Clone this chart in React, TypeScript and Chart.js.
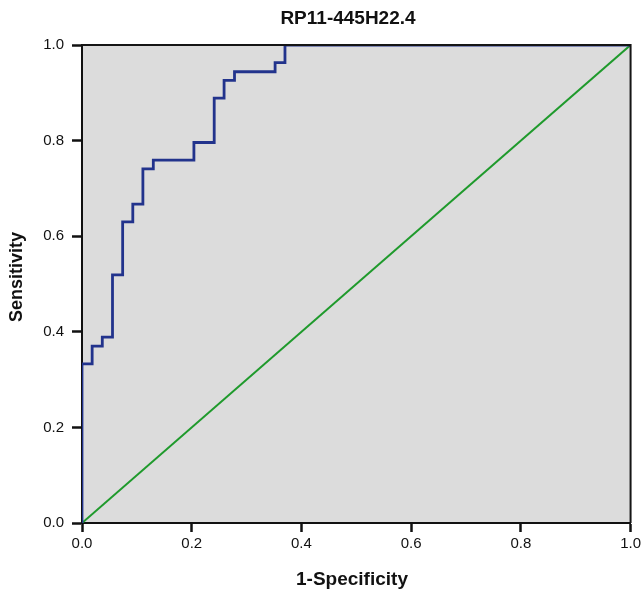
import React, { useEffect, useRef } from "react";
import { Chart, registerables } from "chart.js";

Chart.register(...registerables);

const chartTitle = "RP11-445H22.4";
const xAxisLabel = "1-Specificity";
const yAxisLabel = "Sensitivity";

// ROC curve vertices (1-specificity, sensitivity)
const fpr = [0, 0, 0.0185, 0.037, 0.0556, 0.0741, 0.0926, 0.111, 0.13, 0.204, 0.241, 0.259, 0.278, 0.352, 0.37, 1];
const tpr = [0, 0.333, 0.37, 0.389, 0.519, 0.63, 0.667, 0.741, 0.759, 0.796, 0.889, 0.926, 0.944, 0.963, 1, 1];

// reference diagonal
const refX = [0, 1];
const refY = [0, 1];

const tickValues = [0, 0.2, 0.4, 0.6, 0.8, 1.0];

const FONT = "'Liberation Sans', Arial, Helvetica, sans-serif";

const framePlugin = {
  id: "frameAndTitles",
  beforeDraw(chart: any) {
    const { ctx, chartArea: a } = chart;
    ctx.save();
    ctx.fillStyle = "#dcdcdc";
    ctx.fillRect(a.left, a.top, a.right - a.left, a.bottom - a.top);
    ctx.restore();
  },
  afterDatasetsDraw(chart: any) {
    const { ctx, chartArea: a } = chart;
    ctx.save();
    ctx.strokeStyle = "#151515";
    ctx.lineWidth = 2;
    ctx.beginPath();
    ctx.moveTo(a.left, a.top);
    ctx.lineTo(a.right, a.top);
    ctx.lineTo(a.right, a.bottom);
    ctx.stroke();
    ctx.restore();
  },
  afterDraw(chart: any) {
    const { ctx } = chart;
    ctx.save();
    ctx.fillStyle = "#111";
    ctx.font = `bold 19px ${FONT}`;
    ctx.textAlign = "center";
    ctx.textBaseline = "middle";
    ctx.fillText(chartTitle, 348, 19);
    ctx.fillText(xAxisLabel, 352, 580);
    ctx.font = `bold 18px ${FONT}`;
    ctx.translate(17, 277);
    ctx.rotate(-Math.PI / 2);
    ctx.fillText(yAxisLabel, 0, 0);
    ctx.restore();
  },
};

export default function App() {
  const ref = useRef<HTMLCanvasElement | null>(null);

  useEffect(() => {
    if (!ref.current) return;
    const chart = new Chart(ref.current, {
      type: "line",
      data: {
        datasets: [
          {
            label: "ROC",
            data: fpr.map((x, i) => ({ x, y: tpr[i] })),
            borderColor: "#22338c",
            borderWidth: 2.8,
            pointRadius: 0,
            stepped: "before",
            fill: false,
          },
          {
            label: "Reference",
            data: refX.map((x, i) => ({ x, y: refY[i] })),
            borderColor: "#1f9a2c",
            borderWidth: 2,
            pointRadius: 0,
            fill: false,
          },
        ],
      },
      options: {
        responsive: false,
        animation: false,
        layout: { padding: { top: 45, right: 12, left: 0, bottom: 0 } },
        plugins: {
          legend: { display: false },
          title: { display: false },
          tooltip: { enabled: false },
        },
        scales: {
          x: {
            type: "linear",
            min: 0,
            max: 1,
            afterFit: (s: any) => {
              s.height = 69;
            },
            afterBuildTicks: (s: any) => {
              s.ticks = tickValues.map((v) => ({ value: v }));
            },
            ticks: {
              callback: (v: any) => Number(v).toFixed(1),
              color: "#111",
              font: { family: FONT, size: 15 },
              padding: 3,
              maxRotation: 0,
            },
            grid: {
              drawOnChartArea: false,
              drawTicks: true,
              tickLength: 9,
              tickWidth: 2.5,
              tickColor: "#111",
            },
            border: { display: true, color: "#111", width: 2 },
          },
          y: {
            type: "linear",
            min: 0,
            max: 1,
            afterFit: (s: any) => {
              s.width = 82;
            },
            afterBuildTicks: (s: any) => {
              s.ticks = tickValues.map((v) => ({ value: v }));
            },
            ticks: {
              callback: (v: any) => Number(v).toFixed(1),
              color: "#111",
              font: { family: FONT, size: 15 },
              padding: 8,
            },
            grid: {
              drawOnChartArea: false,
              drawTicks: true,
              tickLength: 10,
              tickWidth: 2.5,
              tickColor: "#111",
            },
            border: { display: true, color: "#111", width: 2 },
          },
        },
      },
      plugins: [framePlugin],
    } as any);
    return () => chart.destroy();
  }, []);

  return (
    <div style={{ position: "absolute", left: 0, top: 0, width: 644, height: 592, background: "#fff" }}>
      <canvas ref={ref} width={644} height={592} style={{ display: "block" }} />
    </div>
  );
}
